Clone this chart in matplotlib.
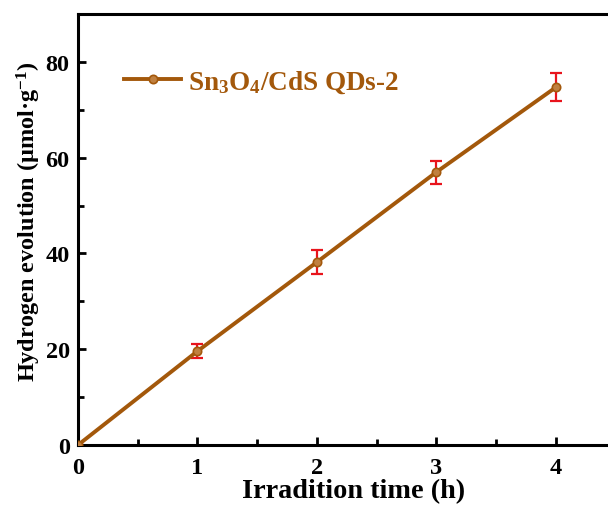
import matplotlib.pyplot as plt

# data
time_h = [0, 1, 2, 3, 4]
h2 = [0, 19.6, 38.2, 57.0, 74.7]
h2_err = [0, 1.5, 2.5, 2.4, 2.9]
series_name = 'Sn$_3$O$_4$/CdS QDs-2'

plt.rcParams['font.family'] = ['Liberation Serif', 'DejaVu Serif']
plt.rcParams['font.weight'] = 'bold'
plt.rcParams['mathtext.fontset'] = 'custom'
plt.rcParams['mathtext.rm'] = 'Liberation Serif:bold'
plt.rcParams['mathtext.it'] = 'Liberation Serif:bold'
plt.rcParams['mathtext.bf'] = 'Liberation Serif:bold'

brown = '#a3580b'

fig = plt.figure(figsize=(6.08, 5.10), dpi=100)
ax = fig.add_axes([78 / 608, 64 / 510, (630 - 78) / 608, 431 / 510])

ax.errorbar(time_h, h2, yerr=h2_err, fmt='none', ecolor='#e8141c',
            elinewidth=1.6, capsize=4, capthick=1.6, zorder=2)
ax.plot(time_h, h2, color=brown, lw=2.8, marker='o', ms=6,
        mfc='#c08040', mec=brown, mew=1.2, label=series_name, zorder=3)

ax.set_xlim(0, 4.62)
ax.set_ylim(0, 90)
ax.set_xticks([0, 1, 2, 3, 4])
ax.set_xticks([0.5, 1.5, 2.5, 3.5, 4.5], minor=True)
ax.set_yticks([0, 20, 40, 60, 80])
ax.set_yticks([10, 30, 50, 70, 90], minor=True)
ax.tick_params(which='both', direction='in', width=2, labelsize=17.5)
ax.tick_params(which='major', length=6)
ax.tick_params(which='minor', length=4)
ax.tick_params(axis='x', which='major', pad=9)
ax.tick_params(axis='y', which='major', pad=6)

for s in ax.spines.values():
    s.set_linewidth(2.2)

ax.set_xlabel('Irradition time (h)', fontsize=20.3, fontweight='bold', labelpad=0)
ax.set_ylabel('Hydrogen evolution (μmol·g$^{-1}$)', fontsize=17.5, fontweight='bold')
ax.yaxis.set_label_coords(-0.064, 0.52)

leg = ax.legend(loc='upper left', bbox_to_anchor=(0.04, 0.93), frameon=False,
                fontsize=19.5, handlelength=2.1, handletextpad=0.25)
for t in leg.get_texts():
    t.set_color(brown)

plt.savefig('out.png', dpi=100)
